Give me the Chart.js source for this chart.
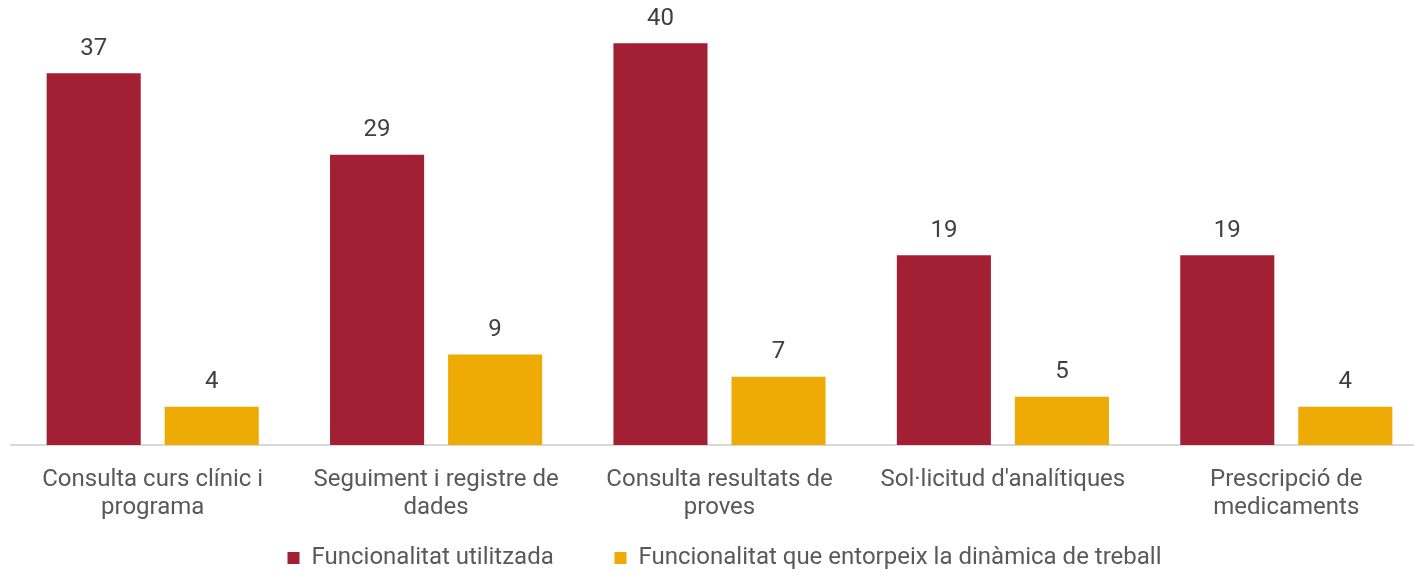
<!DOCTYPE html>
<html>
<head>
<meta charset="utf-8">
<script src="https://cdn.jsdelivr.net/npm/chart.js@4/dist/chart.umd.min.js"></script>
<style>
  html, body { margin: 0; padding: 0; background: #ffffff; overflow: hidden; }
  #wrap { position: relative; width: 1450px; height: 580px; }
</style>
</head>
<body>
<div id="wrap"><canvas id="c"></canvas></div>
<script>
const categories = [
  ['Consulta curs clínic i', 'programa'],
  ['Seguiment i registre de', 'dades'],
  ['Consulta resultats de', 'proves'],
  "Sol·licitud d'analítiques",
  ['Prescripció de', 'medicaments']
];
const seriesNames = ['Funcionalitat utilitzada', 'Funcionalitat que entorpeix la dinàmica de treball'];
const usedValues = [37, 28.9, 40, 18.9, 18.9];
const hinderValues = [3.8, 9.0, 6.8, 4.8, 3.8];

const valueLabels = {
  id: 'valueLabels',
  afterDatasetsDraw(chart) {
    const ctx = chart.ctx;
    ctx.save();
    ctx.font = '24px Roboto';
    ctx.fillStyle = '#404040';
    ctx.textAlign = 'center';
    ctx.textBaseline = 'alphabetic';
    chart.data.datasets.forEach((ds, i) => {
      const meta = chart.getDatasetMeta(i);
      meta.data.forEach((bar, j) => {
        ctx.fillText(String(Math.round(ds.data[j])), bar.x, bar.y - 18.5);
      });
    });
    ctx.restore();
  }
};

new Chart(document.getElementById('c'), {
  type: 'bar',
  data: {
    labels: categories,
    datasets: [
      { label: seriesNames[0], data: usedValues, backgroundColor: '#A31F34', borderWidth: 0,
        categoryPercentage: 0.833, barPercentage: 0.797 },
      { label: seriesNames[1], data: hinderValues, backgroundColor: '#EEAA05', borderWidth: 0,
        categoryPercentage: 0.833, barPercentage: 0.797 }
    ]
  },
  options: {
    responsive: true,
    maintainAspectRatio: false,
    animation: false,
    devicePixelRatio: 1,
    layout: { padding: { left: 11, right: 12, top: 3, bottom: 0 } },
    scales: {
      x: {
        grid: { display: false, drawTicks: false },
        border: { display: true, color: '#D9D9D9', width: 2 },
        ticks: {
          autoSkip: false, maxRotation: 0, minRotation: 0, padding: 21,
          color: '#595959',
          font: { family: 'Roboto', size: 24, lineHeight: 1.17 }
        },
        afterFit(scale) { scale.height = 77; }
      },
      y: {
        display: true,
        position: 'right',
        min: 0, max: 44,
        grid: { display: false, drawTicks: false },
        border: { display: false },
        ticks: { display: false },
        afterFit(scale) { scale.width = 10; }
      }
    },
    plugins: {
      legend: {
        display: true,
        position: 'bottom',
        labels: {
          boxWidth: 12, boxHeight: 12, padding: 24,
          color: '#595959',
          font: { family: 'Roboto', size: 24 },
          generateLabels(chart) {
            const items = Chart.defaults.plugins.legend.labels.generateLabels(chart);
            items.forEach((it, i) => {
              it.lineWidth = 0;
              if (i < items.length - 1) it.text = it.text + '\u2003\u2002';
            });
            return items;
          }
        }
      },
      tooltip: { enabled: false }
    }
  },
  plugins: [valueLabels]
});
</script>
</body>
</html>
